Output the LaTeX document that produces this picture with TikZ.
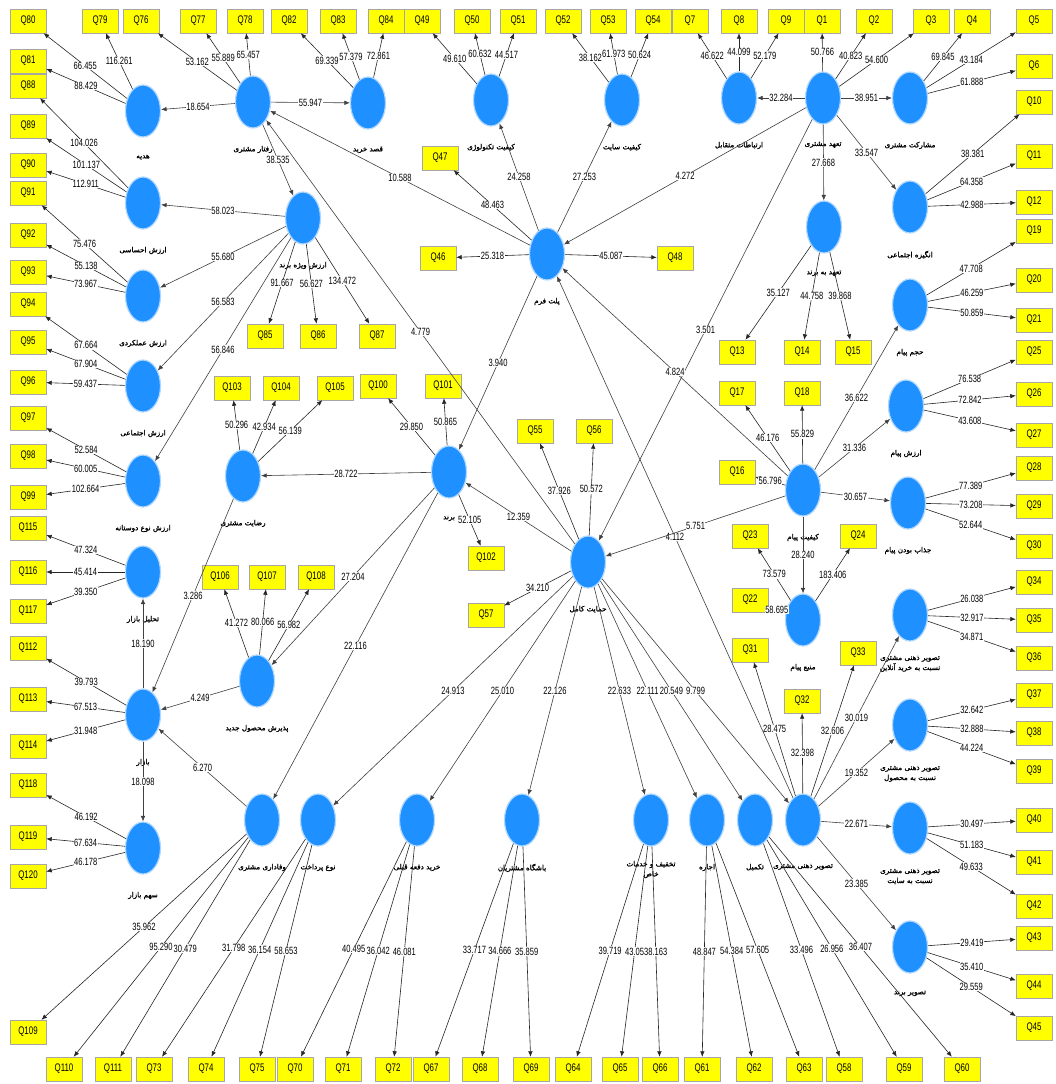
\documentclass[tikz,border=0pt]{standalone}
\usepackage{fontspec}
\setmainfont{Liberation Sans}
\newfontfamily\numfont[FakeStretch=0.72]{Liberation Sans}
\newfontfamily\farsi[Script=Arabic,FakeBold=1.4]{DejaVu Sans}
\TeXXeTstate=1
\newcommand{\prs}[1]{{\farsi\beginR #1\endR}}
\usetikzlibrary{arrows.meta,positioning,shapes.geometric}
\definecolor{lvblue}{RGB}{30,144,255}
\definecolor{indyellow}{RGB}{255,255,0}

\begin{document}
\begin{tikzpicture}[x=1pt,y=-1pt,node distance=17pt,>={Latex[length=5.5pt,width=4.5pt]},
  lv/.style={ellipse,fill=lvblue,draw=lvblue!35,line width=1.2pt,minimum width=35pt,minimum height=52pt,inner sep=0pt},
  ind/.style={fill=indyellow,draw=black!35,line width=0.4pt,minimum width=36pt,minimum height=24pt,inner sep=0pt,font=\numfont\fontsize{11}{11}\selectfont},
  val/.style={fill=white,inner sep=0.5pt,font=\numfont\fontsize{10.5}{11}\selectfont},
  lvtext/.style={align=center,inner sep=0pt,font=\fontsize{7.2}{10}\selectfont},
  ld/.style={->,draw=black!85,line width=0.6pt},
  pth/.style={->,draw=black!75,line width=0.6pt}]

\path[use as bounding box,fill=white] (0,0) rectangle (1056,1084);

\foreach \nm/\x/\y in {gift/143/111,behav/253/102,purch/368/103,tech/491/100,site/622/100,inter/739/98,commit/823/98,partic/910/98,
  socmot/910/207,brcommit/824/227,platform/547/254,breq/303/218,emot/143/203,func/143/296,socval/143/386,altru/143/481,
  analysis/143/572,market/143/715,share/143/848,satis/243/476,brand/449/472,newprod/257/681,support/588/562,
  msgq/803/490,msgvol/910/305,msgval/906/406,msgattr/908/503,msgsrc/803/620,imgonl/910/615,imgprod/910/725,
  imgsite/910/828,imgbrand/910/947,img/803/820,complete/755/820,rent/707/820,discount/651/820,club/522/820,
  prev/417/820,pay/318/820,loyal/262/820}
  \node[lv] (\nm) at (\x,\y) {};

\foreach \nm/\t in {gift/هدیه,behav/رفتار مشتری,purch/قصد خرید,tech/کیفیت تکنولوژی,site/کیفیت سایت,inter/ارتباطات متقابل,
  commit/تعهد مشتری,partic/مشارکت مشتری,socmot/انگیزه اجتماعی,brcommit/تعهد به برند,platform/پلت فرم,breq/ارزش ویژه برند,
  emot/ارزش احساسی,func/ارزش عملکردی,socval/ارزش اجتماعی,altru/ارزش نوع دوستانه,analysis/تحلیل بازار,market/بازار,
  share/سهم بازار,satis/رضایت مشتری,brand/برند,newprod/پذیرش محصول جدید,support/حمایت کامل,msgq/کیفیت پیام,
  msgvol/حجم پیام,msgval/ارزش پیام,msgattr/جذاب بودن پیام,msgsrc/منبع پیام,imgbrand/تصویر برند,img/تصویر ذهنی مشتری,
  complete/تکمیل,rent/اجاره,club/باشگاه مشتریان,prev/خرید دفعه قبلی,pay/نوع پرداخت,loyal/وفاداری مشتری}
  \node[lvtext,below=of \nm] {\prs{\t}};
\node[lvtext,below=14pt of imgonl] {\prs{تصویر ذهنی مشتری}\\\prs{نسبت به خرید آنلاین}};
\node[lvtext,below=14pt of imgprod] {\prs{تصویر ذهنی مشتری}\\\prs{نسبت به محصول}};
\node[lvtext,below=14pt of imgsite] {\prs{تصویر ذهنی مشتری}\\\prs{نسبت به سایت}};
\node[lvtext,below=14pt of discount] {\prs{تخفیف و خدمات}\\\prs{خاص}};

\foreach \q/\x/\y in {80/28/21,79/100/21,76/141/21,77/198/21,78/245/21,82/289/21,83/338/21,84/386/21,49/422/21,50/472/21,
  51/518/21,52/563/21,53/608/21,54/653/21,7/690/21,8/739/21,9/786/21,1/822/21,2/874/21,3/931/21,4/972/21,5/1034/21,
  6/1034/66,10/1034/102,11/1034/156,12/1034/202,19/1034/231,20/1034/280,21/1034/320,25/1034/352,26/1034/394,27/1034/435,
  28/1034/468,29/1034/506,30/1034/546,34/1034/582,35/1034/620,36/1034/658,37/1034/695,38/1034/733,39/1034/771,
  40/1034/820,41/1034/862,42/1034/906,43/1034/938,44/1034/986,45/1034/1028,
  81/28/61,88/28/86,89/28/126,90/28/165,91/28/193,92/28/235,93/28/272,94/28/304,95/28/342,96/28/382,97/28/418,98/28/456,
  99/28/497,115/28/528,116/28/572,117/28/611,112/28/648,113/28/699,114/28/746,118/28/785,119/28/837,120/28/876,109/28/1032,
  110/64/1069,111/113/1069,73/154/1069,74/206/1069,75/257/1069,70/295/1069,71/343/1069,72/393/1069,67/431/1069,
  68/480/1069,69/531/1069,64/573/1069,65/620/1069,66/660/1069,61/702/1069,62/754/1069,63/804/1069,58/844/1069,
  59/904/1069,60/962/1069,
  47/440/158,46/438/258,48/675/258,85/265/336,86/318/336,87/377/336,103/232/388,104/281/388,105/335/388,100/378/386,
  101/443/386,102/486/558,57/486/615,55/535/431,56/594/431,13/737/352,14/802/352,15/853/352,17/737/393,18/802/393,
  16/737/472,23/750/536,24/858/536,22/750/600,31/750/650,33/858/653,32/802/701,106/220/577,107/267/577,108/316/577}
  \node[ind] (q\q) at (\x,\y) {Q\q};

\foreach \c/\q/\v in {gift/80/66.455,gift/81/88.429,gift/79/116.261,behav/76/53.162,behav/77/55.889,behav/78/65.457,
  purch/82/69.339,purch/83/57.379,purch/84/72.861,tech/49/49.610,tech/50/60.632,tech/51/44.517,
  site/52/38.162,site/53/61.973,site/54/50.624,inter/7/46.622,inter/8/44.099,inter/9/52.179,
  commit/1/50.766,commit/2/40.823,commit/3/54.600,partic/4/69.845,partic/5/43.184,partic/6/61.888,
  socmot/10/38.381,socmot/11/64.358,socmot/12/42.988,brcommit/13/35.127,brcommit/14/44.758,brcommit/15/39.868,
  platform/46/25.318,platform/47/48.463,platform/48/45.087,breq/85/91.667,breq/86/56.627,breq/87/134.472,
  emot/88/104.026,emot/89/101.137,emot/90/112.911,func/91/75.476,func/92/55.138,func/93/73.967,
  socval/94/67.664,socval/95/67.904,socval/96/59.437,altru/97/52.584,altru/98/60.005,altru/99/102.664,
  analysis/115/47.324,analysis/116/45.414,analysis/117/39.350,market/112/39.793,market/113/67.513,market/114/31.948,
  share/118/46.192,share/119/67.634,share/120/46.178,satis/103/50.296,satis/104/42.934,satis/105/56.139,
  brand/100/29.850,brand/101/50.865,brand/102/52.105,newprod/106/41.272,newprod/107/80.066,newprod/108/56.982,
  support/55/37.926,support/56/50.572,support/57/34.210,msgq/16/56.796,msgq/17/46.176,msgq/18/55.829,
  msgvol/19/47.708,msgvol/20/46.259,msgvol/21/50.859,msgval/25/76.538,msgval/26/72.842,msgval/27/43.608,
  msgattr/28/77.389,msgattr/29/73.208,msgattr/30/52.644,msgsrc/22/58.695,msgsrc/23/73.579,msgsrc/24/183.406,
  imgonl/34/26.038,imgonl/35/32.917,imgonl/36/34.871,imgprod/37/32.642,imgprod/38/32.888,imgprod/39/44.224,
  imgsite/40/30.497,imgsite/41/51.183,imgsite/42/49.633,imgbrand/43/29.419,imgbrand/44/35.410,imgbrand/45/29.559,
  img/31/28.475,img/32/32.398,img/33/32.606,loyal/109/35.962,loyal/110/95.290,loyal/111/30.479,
  pay/73/31.798,pay/74/36.154,pay/75/58.653,prev/70/40.495,prev/71/36.042,prev/72/46.081,
  club/67/33.717,club/68/34.666,club/69/35.859,discount/64/39.719,discount/65/43.05,discount/66/38.163,
  rent/61/48.847,rent/62/54.384,rent/63/57.605,complete/58/33.496,complete/59/26.956,complete/60/36.407}
  \draw[ld] (\c) -- node[val] {\v} (q\q);

\foreach \a/\b/\v in {behav/gift/18.654,behav/purch/55.947,behav/breq/38.535,breq/emot/58.023,breq/func/55.680,
  breq/socval/56.583,breq/altru/56.846,platform/behav/10.588,platform/tech/24.258,platform/site/27.253,
  commit/platform/4.272,commit/inter/32.284,commit/partic/38.951,commit/brcommit/27.668,commit/socmot/33.547,
  commit/support/3.501,support/behav/4.779,platform/brand/3.940,msgq/platform/4.824,img/platform/4.112,
  msgq/support/5.751,support/brand/12.359,brand/satis/28.722,satis/market/3.286,brand/newprod/27.204,
  brand/loyal/22.116,newprod/market/4.249,loyal/market/6.270,market/analysis/18.190,market/share/18.098,
  support/pay/24.913,support/prev/25.010,support/club/22.126,support/discount/22.633,support/rent/22.111,
  support/complete/20.549,support/img/9.799,msgq/msgvol/36.622,msgq/msgval/31.336,msgq/msgattr/30.657,
  msgq/msgsrc/28.240,img/imgonl/30.019,img/imgprod/19.352,img/imgsite/22.671,img/imgbrand/23.385}
  \draw[pth] (\a) -- node[val] {\v} (\b);
\end{tikzpicture}
\end{document}
